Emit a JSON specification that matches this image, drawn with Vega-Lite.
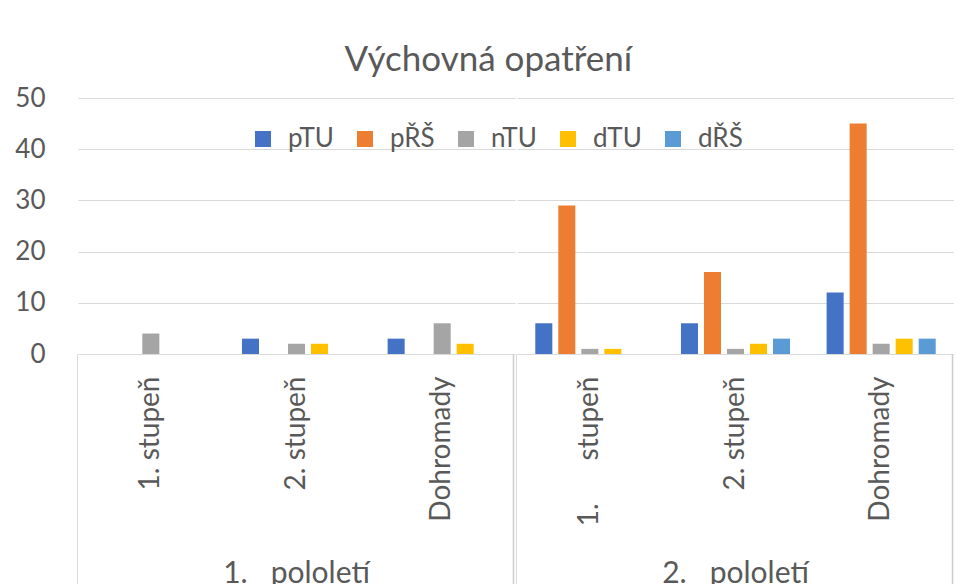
{
  "$schema": "https://vega.github.io/schema/vega-lite/v6.json",
  "background": "white",
  "padding": {"left": 14, "top": 43, "right": 0, "bottom": 0},
  "title": {"text": "Výchovná opatření", "fontSize": 35, "font": "Lato", "fontWeight": "normal", "color": "#595959", "anchor": "middle", "offset": 7, "dx": 4},
  "data": {"values": [
    {"semester": "1.\u00a0\u00a0\u00a0pololetí", "stage": "1. stupeň", "series": "pTU", "value": 0},
    {"semester": "1.\u00a0\u00a0\u00a0pololetí", "stage": "1. stupeň", "series": "pŘŠ", "value": 0},
    {"semester": "1.\u00a0\u00a0\u00a0pololetí", "stage": "1. stupeň", "series": "nTU", "value": 4},
    {"semester": "1.\u00a0\u00a0\u00a0pololetí", "stage": "1. stupeň", "series": "dTU", "value": 0},
    {"semester": "1.\u00a0\u00a0\u00a0pololetí", "stage": "1. stupeň", "series": "dŘŠ", "value": 0},
    {"semester": "1.\u00a0\u00a0\u00a0pololetí", "stage": "2. stupeň", "series": "pTU", "value": 3},
    {"semester": "1.\u00a0\u00a0\u00a0pololetí", "stage": "2. stupeň", "series": "pŘŠ", "value": 0},
    {"semester": "1.\u00a0\u00a0\u00a0pololetí", "stage": "2. stupeň", "series": "nTU", "value": 2},
    {"semester": "1.\u00a0\u00a0\u00a0pololetí", "stage": "2. stupeň", "series": "dTU", "value": 2},
    {"semester": "1.\u00a0\u00a0\u00a0pololetí", "stage": "2. stupeň", "series": "dŘŠ", "value": 0},
    {"semester": "1.\u00a0\u00a0\u00a0pololetí", "stage": "Dohromady", "series": "pTU", "value": 3},
    {"semester": "1.\u00a0\u00a0\u00a0pololetí", "stage": "Dohromady", "series": "pŘŠ", "value": 0},
    {"semester": "1.\u00a0\u00a0\u00a0pololetí", "stage": "Dohromady", "series": "nTU", "value": 6},
    {"semester": "1.\u00a0\u00a0\u00a0pololetí", "stage": "Dohromady", "series": "dTU", "value": 2},
    {"semester": "1.\u00a0\u00a0\u00a0pololetí", "stage": "Dohromady", "series": "dŘŠ", "value": 0},
    {"semester": "2.\u00a0\u00a0\u00a0pololetí", "stage": "1.\u00a0\u00a0\u00a0\u00a0\u00a0\u00a0stupeň", "series": "pTU", "value": 6},
    {"semester": "2.\u00a0\u00a0\u00a0pololetí", "stage": "1.\u00a0\u00a0\u00a0\u00a0\u00a0\u00a0stupeň", "series": "pŘŠ", "value": 29},
    {"semester": "2.\u00a0\u00a0\u00a0pololetí", "stage": "1.\u00a0\u00a0\u00a0\u00a0\u00a0\u00a0stupeň", "series": "nTU", "value": 1},
    {"semester": "2.\u00a0\u00a0\u00a0pololetí", "stage": "1.\u00a0\u00a0\u00a0\u00a0\u00a0\u00a0stupeň", "series": "dTU", "value": 1},
    {"semester": "2.\u00a0\u00a0\u00a0pololetí", "stage": "1.\u00a0\u00a0\u00a0\u00a0\u00a0\u00a0stupeň", "series": "dŘŠ", "value": 0},
    {"semester": "2.\u00a0\u00a0\u00a0pololetí", "stage": "2. stupeň", "series": "pTU", "value": 6},
    {"semester": "2.\u00a0\u00a0\u00a0pololetí", "stage": "2. stupeň", "series": "pŘŠ", "value": 16},
    {"semester": "2.\u00a0\u00a0\u00a0pololetí", "stage": "2. stupeň", "series": "nTU", "value": 1},
    {"semester": "2.\u00a0\u00a0\u00a0pololetí", "stage": "2. stupeň", "series": "dTU", "value": 2},
    {"semester": "2.\u00a0\u00a0\u00a0pololetí", "stage": "2. stupeň", "series": "dŘŠ", "value": 3},
    {"semester": "2.\u00a0\u00a0\u00a0pololetí", "stage": "Dohromady", "series": "pTU", "value": 12},
    {"semester": "2.\u00a0\u00a0\u00a0pololetí", "stage": "Dohromady", "series": "pŘŠ", "value": 45},
    {"semester": "2.\u00a0\u00a0\u00a0pololetí", "stage": "Dohromady", "series": "nTU", "value": 2},
    {"semester": "2.\u00a0\u00a0\u00a0pololetí", "stage": "Dohromady", "series": "dTU", "value": 3},
    {"semester": "2.\u00a0\u00a0\u00a0pololetí", "stage": "Dohromady", "series": "dŘŠ", "value": 3}
  ]},
  "facet": {"column": {"field": "semester", "type": "nominal", "sort": null,
    "header": {"title": null, "labelOrient": "bottom", "labelFontSize": 30, "labelFont": "Lato", "labelColor": "#595959", "labelPadding": -36, "labelBaseline": "top"}}},
  "spacing": 0,
  "resolve": {"scale": {"x": "independent", "xOffset": "independent"}},
  "spec": {
    "width": 437,
    "height": 256,
    "layer": [
      {
        "mark": {"type": "bar"},
        "encoding": {
          "x": {"field": "stage", "type": "nominal", "sort": null, "title": null,
            "scale": {"paddingInner": 0.21, "paddingOuter": 0.105},
            "axis": {"orient": "bottom", "labelAngle": 270, "labelFontSize": 28, "labelFont": "Lato", "labelColor": "#595959", "labelPadding": -218,
              "domainColor": "#d9d9d9", "bandPosition": -0.133, "tickSize": 240,
              "tickColor": {"condition": {"test": "indexof(datum.value, '1.') === 0", "value": "#d9d9d9"}, "value": "transparent"}}},
          "xOffset": {"field": "series", "type": "nominal", "sort": ["pTU", "pŘŠ", "nTU", "dTU", "dŘŠ"],
            "scale": {"paddingInner": 0.26, "paddingOuter": 0.13}},
          "y": {"field": "value", "type": "quantitative", "title": null,
            "scale": {"domain": [0, 50]},
            "axis": {"values": [0, 10, 20, 30, 40, 50], "domain": false, "ticks": false, "labelFontSize": 26, "labelFont": "Lato", "labelColor": "#595959", "labelPadding": 31, "gridColor": "#d9d9d9"}},
          "color": {"field": "series", "type": "nominal", "sort": ["pTU", "pŘŠ", "nTU", "dTU", "dŘŠ"],
            "scale": {"domain": ["pTU", "pŘŠ", "nTU", "dTU", "dŘŠ"], "range": ["#4472C4", "#ED7D31", "#A5A5A5", "#FFC000", "#5B9BD5"]},
            "legend": {"title": null, "orient": "none", "direction": "horizontal", "legendX": 172, "legendY": 28,
              "symbolType": "square", "symbolSize": 256, "symbolStrokeWidth": 0, "labelFontSize": 26, "labelFont": "Lato", "labelColor": "#595959", "labelOffset": 12, "columnPadding": 18}}
        }
      },
      {
        "transform": [{"filter": "datum.stage === 'Dohromady' && datum.series === 'pTU'"}],
        "mark": {"type": "rule", "color": "#cccccc", "strokeWidth": 1.5, "clip": false},
        "encoding": {
          "x": {"field": "stage", "type": "nominal", "sort": null, "bandPosition": 1.12},
          "y": {"datum": 0},
          "y2": {"datum": -45}
        }
      }
    ]
  },
  "config": {"view": {"stroke": null}, "font": "Lato"}
}
